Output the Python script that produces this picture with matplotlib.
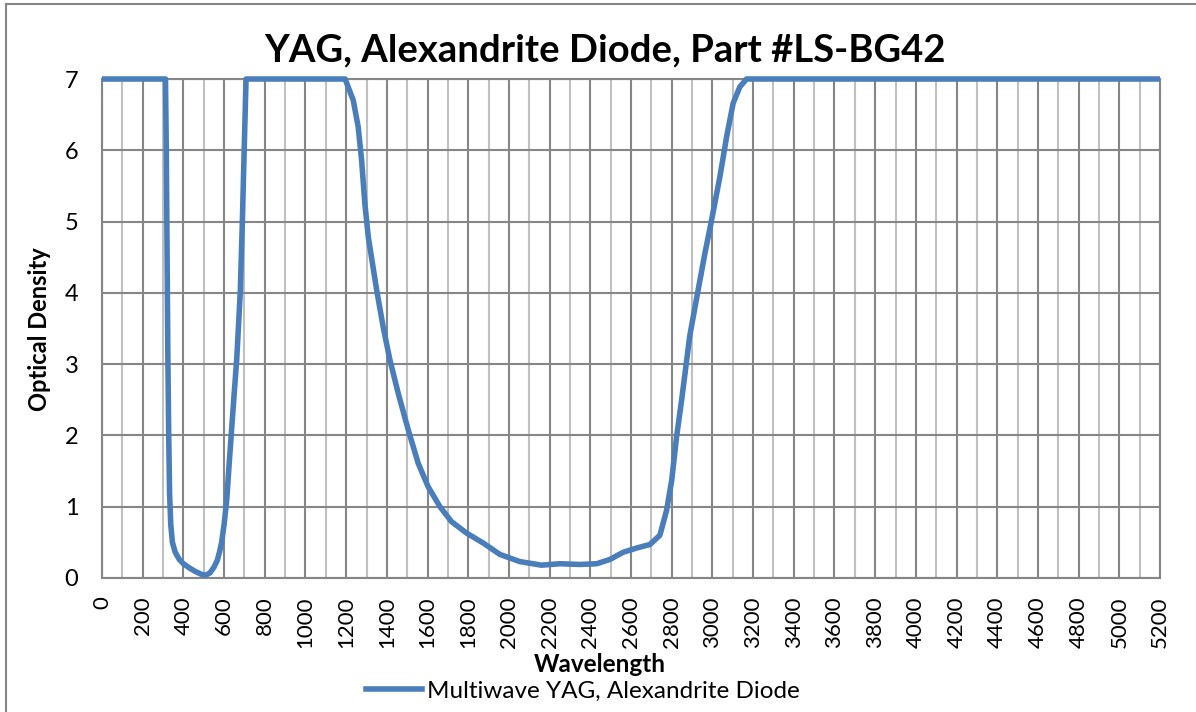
import matplotlib.pyplot as plt
from matplotlib.lines import Line2D

# Optical density curve
wavelength = [0, 100, 200, 312, 316, 320, 324, 328, 332, 338, 346, 360, 380, 400,
              430, 460, 490, 510, 530, 550, 567, 578, 588, 600, 613, 625, 637, 650,
              662, 672, 680, 690, 699, 708, 800, 1000, 1195, 1235, 1259, 1276, 1292,
              1309, 1330, 1350, 1382, 1415, 1456, 1505, 1554, 1603, 1661, 1718, 1792,
              1874, 1956, 2054, 2160, 2250, 2349, 2431, 2496, 2561, 2627, 2693, 2742,
              2775, 2800, 2824, 2849, 2869, 2889, 2930, 2963, 2996, 3037, 3070, 3102,
              3135, 3168, 4000, 5200]
optical_density = [7, 7, 7, 7, 6, 4.5, 3, 2, 1.2, 0.75, 0.5, 0.36, 0.26, 0.2,
                   0.14, 0.09, 0.05, 0.04, 0.07, 0.15, 0.25, 0.37, 0.5, 0.75, 1.09, 1.6, 2.08, 2.6,
                   3.06, 3.6, 4.04, 5.02, 6.02, 7, 7, 7, 7, 6.7, 6.33, 5.86, 5.25,
                   4.78, 4.4, 4.04, 3.52, 3.06, 2.59, 2.08, 1.61, 1.28, 1.0, 0.79, 0.63,
                   0.49, 0.33, 0.23, 0.18, 0.2, 0.19, 0.2, 0.26, 0.36, 0.42, 0.47, 0.6,
                   0.95, 1.37, 1.98, 2.5, 2.95, 3.4, 4.04, 4.55, 5.02, 5.63, 6.19, 6.66,
                   6.89, 7, 7, 7]
series_name = 'Multiwave YAG, Alexandrite Diode'
title = 'YAG, Alexandrite Diode, Part #LS-BG42'
x_ticks = list(range(0, 5201, 200))
y_ticks = list(range(0, 8))

plt.rcParams['font.family'] = ['Lato', 'DejaVu Sans']

fig = plt.figure(figsize=(11.96, 7.12), dpi=100)
ax = fig.add_axes([102 / 1196, 1 - 578 / 712, (1160 - 102) / 1196, (578 - 79) / 712])

# gridlines: major every 200, minor every 100
ax.set_xticks(x_ticks)
ax.set_xticks(range(100, 5200, 200), minor=True)
ax.set_yticks(y_ticks)
ax.grid(True, which='major', axis='both', color='#868686', lw=1.5)
ax.grid(True, which='minor', axis='x', color='#c0c0c0', lw=1.5)
ax.set_axisbelow(True)

ax.plot(wavelength, optical_density, color='#4a7ebb', lw=4.0, solid_capstyle='butt',
        solid_joinstyle='round', clip_on=False, zorder=3)

ax.set_xlim(0, 5200)
ax.set_ylim(0, 7)
for s in ax.spines.values():
    s.set_color('#868686')
    s.set_linewidth(1.5)

ax.tick_params(axis='both', which='both', length=0)
ax.tick_params(axis='x', labelsize=16, pad=13, labelrotation=90)
ax.tick_params(axis='y', labelsize=17, pad=17)
for lab in ax.get_xticklabels():
    lab.set_verticalalignment('top')

fig.suptitle(title, x=605 / 1196, y=1 - 50 / 712, va='center', fontsize=27.5, fontweight='bold')
fig.text(40 / 1196, 1 - 329 / 712, 'Optical Density', rotation=90, ha='center', va='center',
         fontsize=17, fontweight='bold')
fig.text(600 / 1196, 1 - 665 / 712, 'Wavelength', ha='center', va='center',
         fontsize=17.5, fontweight='bold')

handle = Line2D([], [], color='#4a7ebb', lw=4.0)
fig.legend([handle], [series_name], loc='center', bbox_to_anchor=(583 / 1196, 1 - 691 / 712),
           frameon=False, fontsize=17.5, handlelength=2.3, handletextpad=0.2)

# chart area border (left and top edges visible)
fig.add_artist(Line2D([6 / 1196, 6 / 1196], [0, 1 - 4 / 712], color='#868686', lw=1.5,
                      transform=fig.transFigure))
fig.add_artist(Line2D([6 / 1196, 1], [1 - 4 / 712, 1 - 4 / 712], color='#868686', lw=1.5,
                      transform=fig.transFigure))

fig.savefig('out.png', dpi=100)
